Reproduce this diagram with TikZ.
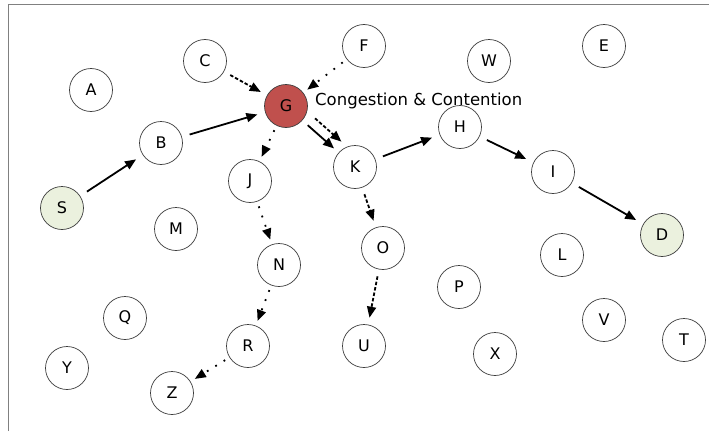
\documentclass[tikz,border=0pt]{standalone}
\usepackage{fontspec}
\setmainfont{DejaVu Sans}
\usetikzlibrary{arrows.meta}
\definecolor{congred}{RGB}{192,80,77}
\definecolor{endgreen}{RGB}{235,241,222}
\definecolor{rimgray}{RGB}{60,60,60}
\definecolor{framegray}{RGB}{128,128,128}
\begin{document}
\begin{tikzpicture}[x=1pt,y=-1pt,
  station/.style={circle,draw=rimgray,line width=0.7pt,fill=white,minimum size=43pt,inner sep=0pt,font=\fontsize{16}{16}\selectfont},
  congested/.style={station,fill=congred},
  endpoint/.style={station,fill=endgreen},
  tip/.style={-{Triangle[length=11pt,width=9pt]}},
  route/.style={tip,line width=1.8pt,shorten >=8pt,shorten <=8pt},
  contend/.style={tip,line width=1.8pt,dash pattern=on 3.5pt off 2pt,shorten >=7pt,shorten <=7pt},
  sparse/.style={tip,line width=1.8pt,dash pattern=on 1.8pt off 8pt,shorten >=5pt,shorten <=5pt}]
\useasboundingbox (0,0) rectangle (709,431);
% frame
\draw[framegray,line width=1.2pt] (8.5,431) -- (8.5,4.5) -- (709,4.5);

% stations
\node[station] (A) at (91,90) {A};
\node[station] (B) at (161,143) {B};
\node[station] (C) at (205,61) {C};
\node[congested] (G) at (286,106) {G};
\node[station] (F) at (364,46) {F};
\node[station] (W) at (489,61) {W};
\node[station] (E) at (604,46) {E};
\node[endpoint] (S) at (62,208) {S};
\node[station] (J) at (250,181) {J};
\node[station] (K) at (355,167) {K};
\node[station] (H) at (460,127) {H};
\node[station] (I) at (553,172) {I};
\node[endpoint] (D) at (662,235) {D};
\node[station] (M) at (176,229) {M};
\node[station] (N) at (279,265) {N};
\node[station] (O) at (383,248) {O};
\node[station] (P) at (459,287) {P};
\node[station] (L) at (562,255) {L};
\node[station] (V) at (604,320) {V};
\node[station] (T) at (684,340) {T};
\node[station] (X) at (495,354) {X};
\node[station] (U) at (364,346) {U};
\node[station] (Q) at (125,318) {Q};
\node[station] (Y) at (67,368) {Y};
\node[station] (R) at (248,346) {R};
\node[station] (Z) at (172,393) {Z};

\node[font=\fontsize{16.5}{16.5}\selectfont,anchor=base west,inner sep=0pt] (cc) at (315,105) {Congestion \& Contention};

% main route
\draw[route] (S) -- (B);
\draw[route] (B) -- (G);
\draw[tip,line width=1.8pt,shorten <=29pt,shorten >=28pt] (G.center) -- (K.center);
\draw[route] (K) -- (H);
\draw[route] (H) -- (I);
\draw[route] (I) -- (D);

% contending traffic
\draw[contend] (C) -- (G);
\draw[tip,line width=1.8pt,dash pattern=on 3.5pt off 2pt,shorten <=30pt,shorten >=27pt]
  ([shift={(6.6,-7.5)}]G.center) -- ([shift={(6.6,-7.5)}]K.center);
\draw[contend] (K) -- (O);
\draw[contend] (O) -- (U);

% diverted traffic
\draw[sparse] (F) -- (G);
\draw[sparse] (G) -- (J);
\draw[sparse] (J) -- (N);
\draw[sparse] (N) -- (R);
\draw[sparse] (R) -- (Z);
\end{tikzpicture}
\end{document}
